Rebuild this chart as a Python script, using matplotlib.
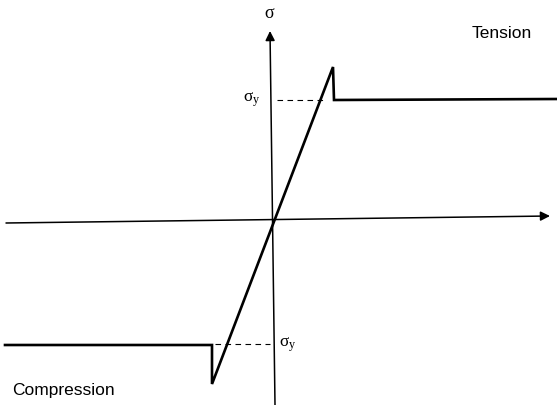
import matplotlib
matplotlib.use("Agg")
import matplotlib.pyplot as plt

plt.rcParams['font.family'] = ['Liberation Sans', 'DejaVu Sans']

# schematic stress-strain curve (arbitrary units)
strain = [-268, -61, -61, 60, 61, 284]
stress = [-125, -125, -164, 153, 120, 121]

sigma_y_t = 120
sigma_y_c = -124
dash_t = [4, 50]
dash_c = [-58, -3]

fig = plt.figure(figsize=(5.57, 4.05), dpi=100)
ax = fig.add_axes([0, 0, 1, 1])
ax.set_xlim(-273, 284)
ax.set_ylim(-185, 220)
ax.axis('off')

# axes with arrows
ax.annotate('', xy=(277, 4), xytext=(-267, -3),
            arrowprops=dict(arrowstyle='-|>', color='black', lw=1.1,
                            mutation_scale=14, shrinkA=0, shrinkB=0))
ax.annotate('', xy=(-3, 189), xytext=(2, -185),
            arrowprops=dict(arrowstyle='-|>', color='black', lw=1.1,
                            mutation_scale=14, shrinkA=0, shrinkB=0))

ax.plot(strain, stress, color='black', lw=1.9, solid_joinstyle='miter')

ax.plot(dash_t, [sigma_y_t, sigma_y_t], color='black', lw=0.8, ls=(0, (5, 4)))
ax.plot(dash_c, [sigma_y_c, sigma_y_c], color='black', lw=0.8, ls=(0, (5, 4)))

serif = ['Liberation Serif', 'DejaVu Serif']
ax.text(-4, 206, 'σ', fontsize=13, ha='center', va='center', family=serif)
ax.text(-21, 120, r'$\mathregular{\sigma_y}$', fontsize=12.5, ha='center', va='center', family=serif)
ax.text(15, -125, r'$\mathregular{\sigma_y}$', fontsize=12.5, ha='center', va='center', family=serif)
ax.text(229, 187, 'Tension', fontsize=12.5, ha='center', va='center')
ax.text(-261, -170, 'Compression', fontsize=12.5, ha='left', va='center')

fig.savefig('out.png', dpi=100)
